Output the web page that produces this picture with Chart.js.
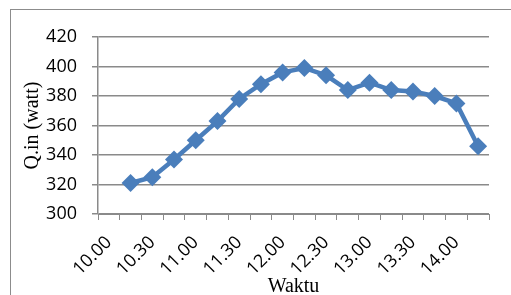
<!DOCTYPE html>
<html>
<head>
<meta charset="utf-8">
<script src="https://cdn.jsdelivr.net/npm/chart.js@4/dist/chart.umd.min.js"></script>
<style>
  html, body { margin: 0; padding: 0; background: #fff; overflow: hidden; }
  #wrap { position: relative; width: 511px; height: 295px; }
  #frame {
    position: absolute; left: 10px; top: 9px; width: 700px; height: 500px;
    border: 1px solid #8c8c8c;
  }
  #qinChart { position: absolute; left: 0; top: 0; }
</style>
</head>
<body>
<div id="wrap">
  <div id="frame"></div>
  <canvas id="qinChart" width="511" height="295"></canvas>
</div>
<script>
  ; ((Chart) => {
    "use strict";

    // waktu (15 menit), only every other one gets a label
    const waktu = ["10.00", "10.15", "10.30", "10.45", "11.00", "11.15", "11.30", "11.45",
      "12.00", "12.15", "12.30", "12.45", "13.00", "13.15", "13.30", "13.45", "14.00", "14.15"];

    // Q.in (watt), nothing measured at 10.00
    const qIn = [null, 321, 325, 337, 350, 363, 378, 388, 396, 399, 394, 384, 389, 384, 383, 380, 375, 346];

    const yTicks = [300, 320, 340, 360, 380, 400, 420];

    const lineColor = "#4a7ebb";
    const gridColor = "#8a8a8a";
    const tickFont = { family: "'Open Sans', sans-serif", size: 18 };
    const titleFont = { family: "'Liberation Serif', 'Times New Roman', serif", size: 20 };

    const ctx = document.getElementById("qinChart").getContext("2d");

    const chart = new Chart(ctx, {
      type: "line",
      data: {
        labels: waktu,
        datasets: [{
          label: "Q.in",
          data: qIn,
          borderColor: lineColor,
          backgroundColor: lineColor,
          borderWidth: 4.5,
          tension: 0,
          pointStyle: "rectRot",
          pointRadius: 9,
          pointBorderWidth: 0,
          pointBackgroundColor: lineColor
        }]
      },
      options: {
        responsive: false,
        animation: false,
        layout: {
          padding: { left: 12, right: 22, top: 37, bottom: 0 }
        },
        plugins: {
          legend: { display: false },
          tooltip: { enabled: false }
        },
        scales: {
          x: {
            type: "category",
            offset: true,
            afterFit: (scale) => { scale.height = 81; },
            grid: {
              offset: true,
              drawOnChartArea: false,
              drawTicks: true,
              tickLength: 6,
              color: gridColor,
              lineWidth: 1
            },
            border: { color: gridColor, width: 1 },
            ticks: {
              autoSkip: false,
              minRotation: 45,
              maxRotation: 45,
              padding: 12,
              color: "#000",
              font: tickFont,
              callback: function (val, i) {
                return i % 2 === 0 ? this.getLabelForValue(val) : "";
              }
            },
            title: {
              display: true,
              text: "Waktu",
              color: "#000",
              font: titleFont,
              padding: { top: 0, bottom: -4 }
            }
          },
          y: {
            min: yTicks[0],
            max: yTicks[yTicks.length - 1],
            afterFit: (scale) => { scale.width = 86; },
            afterBuildTicks: (scale) => {
              scale.ticks = yTicks.map((v) => ({ value: v }));
            },
            grid: {
              drawTicks: true,
              tickLength: 6,
              color: gridColor,
              lineWidth: 1.5
            },
            border: { color: gridColor, width: 1.5 },
            ticks: {
              padding: 15,
              color: "#000",
              font: tickFont
            },
            title: {
              display: true,
              text: "Q.in (watt)",
              color: "#000",
              font: titleFont,
              padding: { top: 9, bottom: 0 }
            }
          }
        }
      }
    });

  })(Chart);
</script>
</body>
</html>
